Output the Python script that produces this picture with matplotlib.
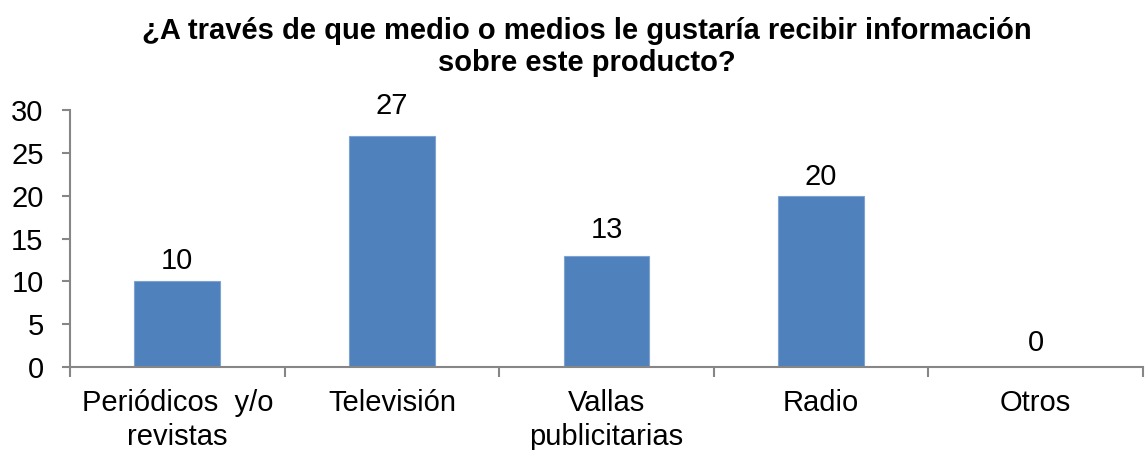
import matplotlib
matplotlib.use("Agg")
import matplotlib.pyplot as plt
import numpy as np

categories = ["Periódicos  y/o\nrevistas", "Televisión", "Vallas\npublicitarias", "Radio", "Otros"]
values = [10, 27, 13, 20, 0]
yticks = [0, 5, 10, 15, 20, 25, 30]
title = "¿A través de que medio o medios le gustaría recibir información\nsobre este producto?"

# gap (pixels) between bar top and label baseline, as placed in the reference
label_gap_px = [12, 22, 18, 11, 16]

plt.rcParams['font.family'] = ['Liberation Sans', 'DejaVu Sans']

W, H = 1145, 450
fig = plt.figure(figsize=(W/100, H/100), dpi=100)
ax = fig.add_axes([70/W, (H-367)/H, (1143-70)/W, (367-110)/H])

x = np.arange(len(categories))
bar_color = "#4F81BD"
ax.bar(x, values, width=0.4, color=bar_color, edgecolor="#7FA3D0", linewidth=0.8, zorder=2)

FS = 21
ax.set_xlim(-0.5, len(categories) - 0.5)
ax.set_ylim(0, 30)
ax.set_yticks(yticks)
ax.set_yticklabels([str(v) for v in yticks], fontsize=FS)

axis_col = "#868686"
for s in ["top", "right"]:
    ax.spines[s].set_visible(False)
ax.spines["left"].set_color(axis_col)
ax.spines["bottom"].set_color(axis_col)
ax.spines["left"].set_linewidth(1.5)
ax.spines["bottom"].set_linewidth(1.5)

ax.tick_params(axis="y", direction="out", length=6, width=1.5, color=axis_col, pad=13)
# x ticks at category boundaries
ax.set_xticks(np.arange(len(categories) + 1) - 0.5)
ax.set_xticklabels([])
ax.tick_params(axis="x", direction="out", length=7, width=1.5, color=axis_col)
ax.set_xticks(x, minor=True)
ax.set_xticklabels(categories, minor=True, fontsize=FS, linespacing=1.28)
ax.tick_params(axis="x", which="minor", length=0, pad=15.5)

for xi, v, g in zip(x, values, label_gap_px):
    ax.annotate(str(v), (xi, v), xytext=(0, g * 0.72), textcoords="offset points",
                ha="center", va="baseline", fontsize=FS)

fig.text(587/W, 1 - 47/H, title, ha="center", va="center", fontsize=21,
         fontweight="bold", linespacing=1.2)

fig.savefig("out.png", dpi=100)
